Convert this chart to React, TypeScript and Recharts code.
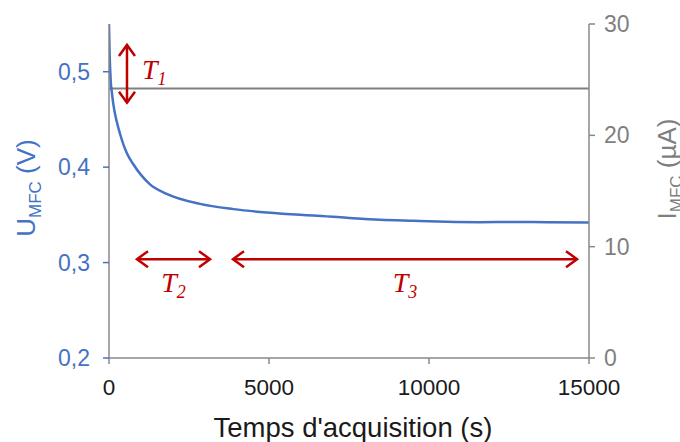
import React from 'react';
import { ComposedChart, Line, XAxis, YAxis, ReferenceLine } from 'recharts';

// Voltage U_MFC over acquisition time
const timeS = [0, 20, 40, 60, 84, 135, 240, 344, 552, 760, 1281, 1802, 2844, 3885, 4927, 5969, 6385, 7427, 8469, 9510, 10552, 11594, 12625, 13677, 15000];
const voltageV = [0.55, 0.518, 0.5, 0.487, 0.48, 0.466, 0.448, 0.435, 0.415, 0.403, 0.382, 0.372, 0.3615, 0.356, 0.3524, 0.350, 0.3493, 0.3469, 0.3448, 0.3437, 0.3427, 0.3423, 0.3426, 0.3423, 0.342];

// Current I_MFC (constant)
const currentT = [0, 15000];
const currentUA = [24.2, 24.2];

// Axis ticks
const xTicks = [0, 5000, 10000, 15000];
const uTicks = [0.2, 0.3, 0.4, 0.5];
const iTicks = [0, 10, 20, 30];

// Annotations (arrows with labels), in data coordinates of the voltage axis
const arrowNames = ['1', '2', '3'];
const arrowX1 = [562, 875, 3875];
const arrowX2 = [562, 3156, 14625];
const arrowY1 = [0.528, 0.3036, 0.3036];
const arrowY2 = [0.4675, 0.3036, 0.3036];

const voltageData = timeS.map((t, i) => ({ t, u: voltageV[i] }));
const currentData = currentT.map((t, i) => ({ t, i: currentUA[i] }));

const BLUE = '#4472C4';
const GRAY = '#898989';
const RED = '#C00000';
const SANS = '"Liberation Sans", Arial, sans-serif';
const SERIF = '"Liberation Serif", "Times New Roman", serif';

function arrowShape(sub: string) {
  return (p: any) => {
    const { x1, y1, x2, y2 } = p;
    const dx = x2 - x1;
    const dy = y2 - y1;
    const len = Math.sqrt(dx * dx + dy * dy) || 1;
    const ux = dx / len;
    const uy = dy / len;
    const px = -uy;
    const py = ux;
    const h = 11;
    const w = 8;
    const head = (tx: number, ty: number, dir: number) =>
      `M${tx - dir * ux * h + px * w},${ty - dir * uy * h + py * w} L${tx},${ty} L${tx - dir * ux * h - px * w},${ty - dir * uy * h - py * w}`;
    const vertical = Math.abs(dx) < Math.abs(dy);
    const mx = (x1 + x2) / 2;
    const my = (y1 + y2) / 2;
    const lx = vertical ? x1 + 15 : mx;
    const ly = vertical ? my + 5 : my + 33;
    return (
      <g>
        <line x1={x1} y1={y1} x2={x2} y2={y2} stroke={RED} strokeWidth={2.5} />
        <path d={head(x1, y1, -1)} fill="none" stroke={RED} strokeWidth={2.5} strokeLinejoin="miter" />
        <path d={head(x2, y2, 1)} fill="none" stroke={RED} strokeWidth={2.5} strokeLinejoin="miter" />
        <text x={lx} y={ly} textAnchor={vertical ? 'start' : 'middle'} fill={RED} fontFamily={SERIF} fontStyle="italic" fontSize={28}>
          <tspan>T</tspan>
          <tspan fontSize={18} dy={6}>{sub}</tspan>
        </text>
      </g>
    );
  };
}

const leftTitle = (props: any) => {
  const vb = props.viewBox || { x: 0, y: 24, width: 109, height: 334 };
  const x = vb.x + 35;
  const y = vb.y + vb.height / 2 - 3;
  return (
    <text x={x} y={y} transform={`rotate(-90 ${x} ${y})`} textAnchor="middle" fill={BLUE} fontFamily={SANS} fontSize={26}>
      <tspan>U</tspan>
      <tspan fontSize={17} dy={6}>MFC</tspan>
      <tspan dy={-6}>{'\u00a0(V)'}</tspan>
    </text>
  );
};

const rightTitle = (props: any) => {
  const vb = props.viewBox || { x: 589, y: 24, width: 91, height: 334 };
  const x = vb.x + 87;
  const y = vb.y + vb.height / 2 - 22;
  return (
    <text x={x} y={y} transform={`rotate(-90 ${x} ${y})`} textAnchor="middle" fill="#7F7F7F" fontFamily={SANS} fontSize={26}>
      <tspan>I</tspan>
      <tspan fontSize={17} dy={6}>MFC</tspan>
      <tspan dy={-6}>{'\u00a0(\u00b5A)'}</tspan>
    </text>
  );
};

const bottomTitle = (props: any) => {
  const vb = props.viewBox || { x: 109, y: 358, width: 480, height: 84 };
  const x = vb.x + vb.width / 2 + 4;
  const y = vb.y + 79;
  return (
    <text x={x} y={y} textAnchor="middle" fill="#1a1a1a" fontFamily={SANS} fontSize={27.5}>
      Temps d'acquisition (s)
    </text>
  );
};

export default function App() {
  return (
    <div style={{ position: 'absolute', left: 0, top: 0, width: 680, height: 442, background: '#fff' }}>
      <ComposedChart width={680} height={442} margin={{ top: 24, right: 0, bottom: 0, left: 0 }}>
        <XAxis
          type="number"
          dataKey="t"
          domain={[0, 15000]}
          ticks={xTicks}
          allowDataOverflow
          height={84}
          axisLine={{ stroke: GRAY, strokeWidth: 1.5 }}
          tickLine={{ stroke: GRAY, strokeWidth: 1.5 }}
          tickSize={6}
          tickMargin={15}
          tick={{ fill: '#1a1a1a', fontSize: 22.5, fontFamily: SANS }}
          label={{ content: bottomTitle }}
        />
        <YAxis
          yAxisId="u"
          orientation="left"
          domain={[0.2, 0.55]}
          ticks={uTicks}
          allowDataOverflow
          width={109}
          tickFormatter={(v: number) => v.toFixed(1).replace('.', ',')}
          axisLine={{ stroke: GRAY, strokeWidth: 1.5 }}
          tickLine={{ stroke: BLUE, strokeWidth: 1.5 }}
          tickSize={6}
          tickMargin={13}
          tick={{ fill: BLUE, fontSize: 23, fontFamily: SANS }}
          label={{ content: leftTitle }}
        />
        <YAxis
          yAxisId="i"
          orientation="right"
          domain={[0, 30]}
          ticks={iTicks}
          allowDataOverflow
          width={91}
          axisLine={{ stroke: GRAY, strokeWidth: 1.5 }}
          tickLine={{ stroke: GRAY, strokeWidth: 1.5 }}
          tickSize={6}
          tickMargin={9}
          tick={{ fill: '#7F7F7F', fontSize: 23, fontFamily: SANS }}
          label={{ content: rightTitle }}
        />
        <Line
          yAxisId="i"
          data={currentData}
          dataKey="i"
          type="linear"
          stroke="#808080"
          strokeWidth={2}
          dot={false}
          activeDot={false}
          isAnimationActive={false}
        />
        <Line
          yAxisId="u"
          data={voltageData}
          dataKey="u"
          type="monotone"
          stroke={BLUE}
          strokeWidth={2.5}
          dot={false}
          activeDot={false}
          isAnimationActive={false}
        />
        {arrowNames.map((n, k) => (
          <ReferenceLine
            key={n}
            yAxisId="u"
            segment={[
              { x: arrowX1[k], y: arrowY1[k] },
              { x: arrowX2[k], y: arrowY2[k] },
            ]}
            ifOverflow="visible"
            shape={arrowShape(n)}
          />
        ))}
      </ComposedChart>
    </div>
  );
}
